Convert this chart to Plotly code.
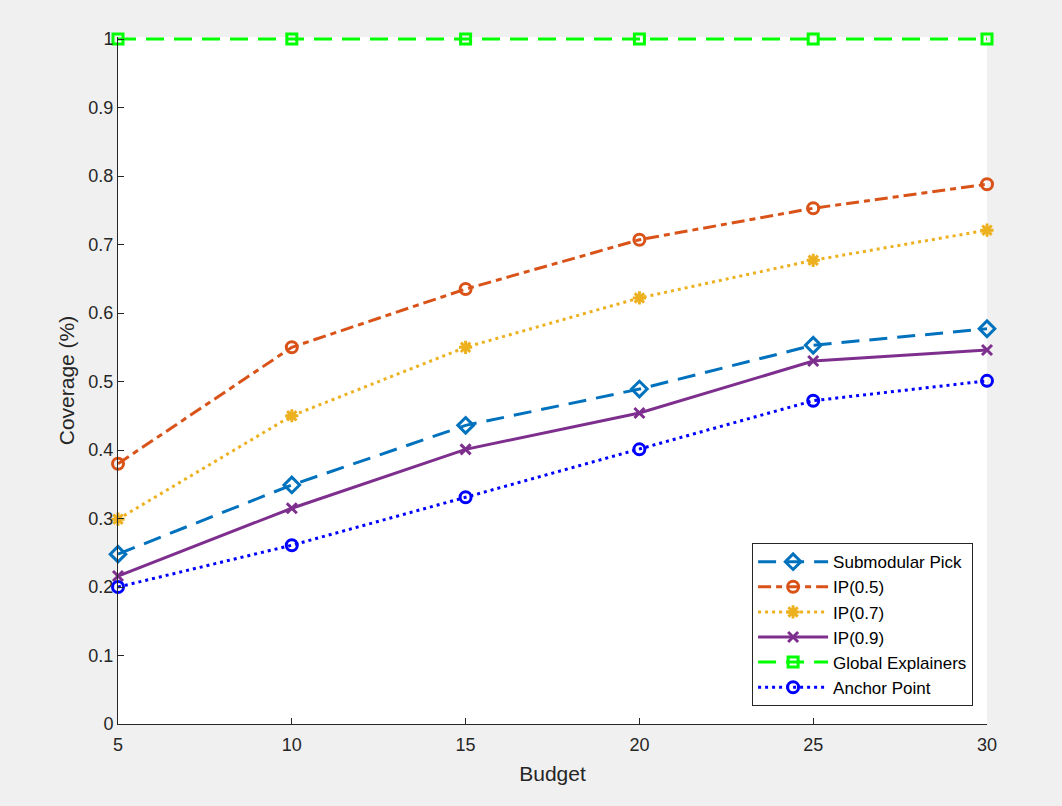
import plotly.graph_objects as go

budget = [5, 10, 15, 20, 25, 30]
submodular = [0.248, 0.349, 0.436, 0.489, 0.553, 0.577]
ip05 = [0.380, 0.550, 0.635, 0.707, 0.753, 0.788]
ip07 = [0.299, 0.450, 0.550, 0.622, 0.677, 0.721]
ip09 = [0.216, 0.315, 0.401, 0.454, 0.530, 0.546]
global_exp = [1.0, 1.0, 1.0, 1.0, 1.0, 1.0]
anchor = [0.200, 0.261, 0.331, 0.401, 0.472, 0.501]

y_ticks = [i / 10 for i in range(11)]
y_tick_labels = ["0", "0.1", "0.2", "0.3", "0.4", "0.5", "0.6", "0.7", "0.8", "0.9", "1"]

series = [
    ("Submodular Pick", submodular, "#0072BD", "18px,10px", "diamond-open", 12),
    ("IP(0.5)", ip05, "#D95319", "13px,5px,6px,5px", "circle-open", 11),
    ("IP(0.7)", ip07, "#EDB120", "3px,4px", "asterisk-open", 11),
    ("IP(0.9)", ip09, "#7E2F8E", "solid", "x-thin-open", 10),
    ("Global Explainers", global_exp, "#00FF00", "18px,10px", "square-open", 10),
    ("Anchor Point", anchor, "#0000FF", "3px,4px", "circle-open", 11),
]

fig = go.Figure()
for name, ys, color, dash, sym, size in series:
    fig.add_trace(go.Scatter(
        x=budget, y=ys, name=name, mode="lines+markers",
        line=dict(color=color, width=3, dash=dash),
        marker=dict(symbol=sym, size=size, color=color,
                    line=dict(color=color, width=3)),
        cliponaxis=False,
    ))

axis_common = dict(
    showline=True, linecolor="#262626", linewidth=1,
    ticks="inside", ticklen=6, tickcolor="#262626",
    showgrid=False, zeroline=False, mirror=False,
    tickfont=dict(family="Liberation Sans, Arial", size=18, color="#262626"),
)

fig.update_layout(
    width=1062, height=806,
    paper_bgcolor="#f0f0f0", plot_bgcolor="white",
    margin=dict(l=118, r=75, t=37, b=82),
    font=dict(family="Liberation Sans, Arial", color="#262626"),
    xaxis=dict(range=[5, 30], tickvals=budget, ticktext=[str(b) for b in budget],
               title=dict(text="Budget", font=dict(size=21), standoff=12),
               ticklabelstandoff=4,
               **axis_common),
    yaxis=dict(range=[0, 1.003], tickvals=y_ticks, ticktext=y_tick_labels,
               title=dict(text="Coverage (%)", font=dict(size=21), standoff=8),
               **axis_common),
    legend=dict(x=0.984, y=0.026, xanchor="right", yanchor="bottom",
                bgcolor="white", bordercolor="#262626", borderwidth=1,
                font=dict(size=17, color="#000000"), tracegroupgap=0,
                itemwidth=70),
    showlegend=True,
)

fig.write_html(
    "out.html",
    config={"displayModeBar": False},
    post_script="document.body.style.margin='0';document.body.style.overflow='hidden';",
)
